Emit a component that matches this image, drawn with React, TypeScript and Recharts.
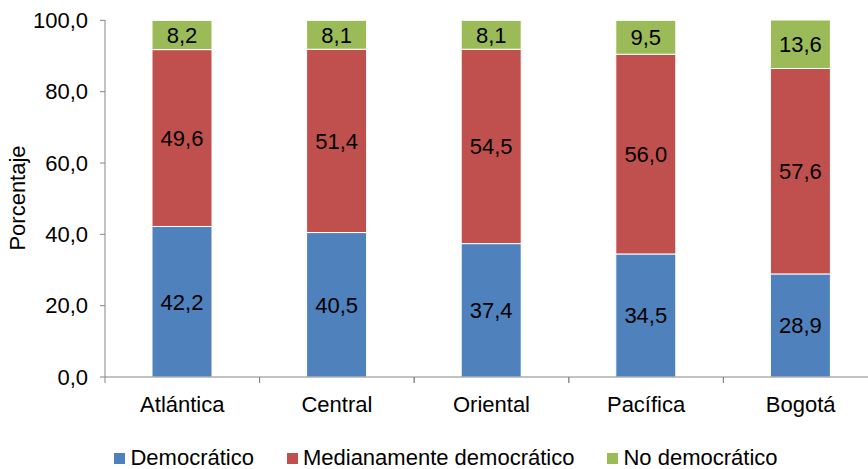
import { BarChart, Bar, XAxis, YAxis, Legend, LabelList } from 'recharts';

const regions = ['Atlántica', 'Central', 'Oriental', 'Pacífica', 'Bogotá'];
const democratico = [42.2, 40.5, 37.4, 34.5, 28.9];
const medianamente = [49.6, 51.4, 54.5, 56.0, 57.6];
const noDemocratico = [8.2, 8.1, 8.1, 9.5, 13.6];
const yTicks = [0, 20, 40, 60, 80, 100];

const SERIES = [
  { key: 'dem', name: 'Democrático', color: '#4F81BD' },
  { key: 'med', name: 'Medianamente democrático', color: '#C0504D' },
  { key: 'no', name: 'No democrático', color: '#9BBB59' },
];

const data = regions.map((region, i) => ({
  region,
  dem: democratico[i],
  med: medianamente[i],
  no: noDemocratico[i],
}));

const FONT = '"Liberation Sans", Arial, sans-serif';
const FS = 22;
const AXIS = '#868686';
const fmt = (v: number) => v.toFixed(1).replace('.', ',');

function XTick({ x, y, payload }: { x?: number; y?: number; payload?: { value: string } }) {
  const half = 77.3;
  const ay = (y ?? 0) - 20;
  return (
    <g>
      <line x1={(x ?? 0) - half} x2={(x ?? 0) - half} y1={ay} y2={ay + 6} stroke={AXIS} />
      <line x1={(x ?? 0) + half} x2={(x ?? 0) + half} y1={ay} y2={ay + 6} stroke={AXIS} />
      <text x={x} y={(y ?? 0) + 15} textAnchor="middle" fontSize={FS} fill="#000" fontFamily={FONT}>
        {payload?.value}
      </text>
    </g>
  );
}

function LegendContent() {
  return (
    <div
      style={{
        display: 'flex',
        justifyContent: 'center',
        gap: 33,
        paddingTop: 19,
        paddingLeft: 14,
        fontFamily: FONT,
        fontSize: FS,
        lineHeight: '24px',
        color: '#000',
      }}
    >
      {SERIES.map((s) => (
        <div key={s.key} style={{ display: 'flex', alignItems: 'center' }}>
          <span style={{ width: 11, height: 11, background: s.color, display: 'inline-block', marginRight: 5 }} />
          <span>{s.name}</span>
        </div>
      ))}
    </div>
  );
}

export default function App() {
  return (
    <div style={{ position: 'absolute', left: 0, top: 0, width: 868, height: 469, overflow: 'hidden', background: '#fff' }}>
      <BarChart
        width={878}
        height={469}
        data={data}
        barSize={60}
        margin={{ top: 20, right: 0, left: 0, bottom: 0 }}
      >
        <XAxis
          dataKey="region"
          stroke={AXIS}
          tickLine={false}
          tickSize={6}
          tickMargin={14}
          height={50}
          tick={<XTick />}
          interval={0}
        />
        <YAxis
          domain={[0, 100]}
          ticks={yTicks}
          width={105}
          stroke={AXIS}
          tickSize={5}
          tickMargin={12}
          tick={{ fill: '#000', fontSize: FS, fontFamily: FONT }}
          tickFormatter={fmt}
          label={() => (
            <text
              x={25}
              y={198}
              transform="rotate(-90 25 198)"
              textAnchor="middle"
              fontSize={FS}
              fontFamily={FONT}
              fill="#000"
            >
              Porcentaje
            </text>
          )}
        />
        <Legend verticalAlign="bottom" height={42} content={<LegendContent />} />
        {SERIES.map((s) => (
          <Bar
            key={s.key}
            dataKey={s.key}
            name={s.name}
            stackId="a"
            fill={s.color}
            stroke="#fff"
            strokeWidth={1}
            isAnimationActive={false}
          >
            <LabelList
              dataKey={s.key}
              position="center"
              formatter={(v: number) => fmt(v)}
              fill="#000"
              fontSize={FS}
              fontFamily={FONT}
            />
          </Bar>
        ))}
      </BarChart>
    </div>
  );
}
